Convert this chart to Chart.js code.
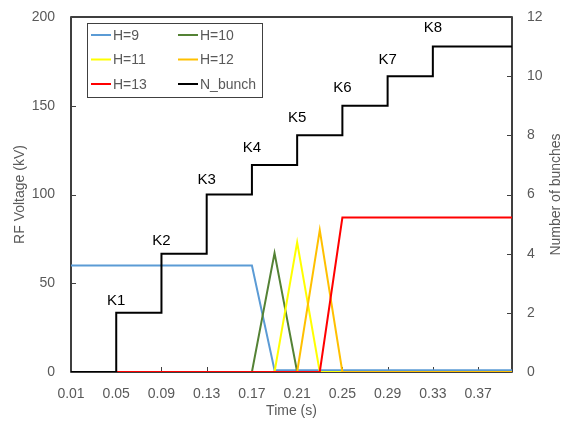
<!DOCTYPE html>
<html><head><meta charset="utf-8">
<script src="https://cdn.jsdelivr.net/npm/chart.js@4"></script>
<style>html,body{margin:0;padding:0;background:#fff}#wrap{width:564px;height:421px}</style>
</head><body><div id="wrap"><canvas id="c" width="564" height="421"></canvas></div>
<script>
// ---- data ----
const times = [0.01, 0.05, 0.17, 0.19, 0.21, 0.23, 0.25, 0.40];
const h9  = [60, 60, 60, 1, 1, 1, 1, 1];
const h10 = [0, 0, 0, 67, 0, 0, 0, 0];
const h11 = [0, 0, 0, 0, 73, 0, 0, 0];
const h12 = [0, 0, 0, 0, 0, 80, 0, 0];
const h13 = [0, 0, 0, 0, 0, 0, 87, 87];
const stepTimes = [0.01, 0.05, 0.09, 0.13, 0.17, 0.21, 0.25, 0.29, 0.33, 0.40];
const nBunch = [0, 2, 4, 6, 7, 8, 9, 10, 11, 11];
const kLabels = ['K1', 'K2', 'K3', 'K4', 'K5', 'K6', 'K7', 'K8'];
const kTimes = [0.05, 0.09, 0.13, 0.17, 0.21, 0.25, 0.29, 0.33];
const kHeights = [40, 74, 108, 126, 143, 160, 176, 194]; // label anchor, kV units
const xTicks = [0.01, 0.05, 0.09, 0.13, 0.17, 0.21, 0.25, 0.29, 0.33, 0.37];
const seriesNames = ['H=9', 'H=10', 'H=11', 'H=12', 'H=13', 'N_bunch'];
const seriesColors = ['#5B9BD5', '#548235', '#FFFF00', '#FFC000', '#FF0000', '#000000'];

const FONT = '"Liberation Sans", Arial, sans-serif';
const GREY = '#595959';

const toXY = (xs, ys) => xs.map((x, i) => ({x: x, y: ys[i]}));
const hSeries = [h9, h10, h11, h12, h13];

const datasets = hSeries.map((vals, i) => ({
  label: seriesNames[i],
  data: toXY(times, vals),
  borderColor: seriesColors[i],
  borderWidth: 2,
  pointRadius: 0,
  fill: false,
  tension: 0,
  yAxisID: 'y',
  order: 5 - i
}));
datasets.push({
  label: seriesNames[5],
  data: toXY(stepTimes, nBunch),
  borderColor: seriesColors[5],
  borderWidth: 2,
  pointRadius: 0,
  fill: false,
  stepped: 'before',
  yAxisID: 'y2',
  order: 0
});

const framePlugin = {
  id: 'frame',
  beforeDatasetsDraw(chart) {
    const {ctx, chartArea: a} = chart;
    ctx.save();
    ctx.strokeStyle = '#000';
    ctx.lineWidth = 1.5;
    ctx.strokeRect(a.left, a.top, a.right - a.left, a.bottom - a.top);
    // inward tick marks
    ctx.lineWidth = 1;
    ctx.strokeStyle = '#404040';
    const xs = chart.scales.x, y = chart.scales.y, y2 = chart.scales.y2;
    ctx.beginPath();
    xs.ticks.forEach(t => { const px = Math.round(xs.getPixelForValue(t.value)) + 0.5; ctx.moveTo(px, a.bottom); ctx.lineTo(px, a.bottom - 5); });
    y.ticks.forEach(t => { const py = Math.round(y.getPixelForValue(t.value)) + 0.5; ctx.moveTo(a.left, py); ctx.lineTo(a.left + 5, py); });
    y2.ticks.forEach(t => { const py = Math.round(y2.getPixelForValue(t.value)) + 0.5; ctx.moveTo(a.right, py); ctx.lineTo(a.right - 5, py); });
    ctx.stroke();
    ctx.restore();
  },
  afterDraw(chart) {
    const {ctx, chartArea: a} = chart;
    const xs = chart.scales.x, y = chart.scales.y;
    ctx.save();
    // K labels
    ctx.fillStyle = '#000';
    ctx.font = '15px ' + FONT;
    ctx.textAlign = 'center';
    ctx.textBaseline = 'middle';
    kLabels.forEach((lab, i) => {
      ctx.fillText(lab, xs.getPixelForValue(kTimes[i]), y.getPixelForValue(kHeights[i]));
    });
    // axis titles
    ctx.fillStyle = GREY;
    ctx.font = '14px ' + FONT;
    ctx.fillText('Time (s)', (a.left + a.right) / 2, 411);
    ctx.save();
    ctx.translate(20, (a.top + a.bottom) / 2);
    ctx.rotate(-Math.PI / 2);
    ctx.fillText('RF Voltage (kV)', 0, 0);
    ctx.restore();
    ctx.save();
    ctx.translate(556, (a.top + a.bottom) / 2);
    ctx.rotate(-Math.PI / 2);
    ctx.fillText('Number of bunches', 0, 0);
    ctx.restore();
    // legend
    const bx = 87, by = 23, bw = 175, bh = 74;
    ctx.fillStyle = '#fff';
    ctx.fillRect(bx, by, bw, bh);
    ctx.strokeStyle = '#404040';
    ctx.lineWidth = 1;
    ctx.strokeRect(bx + 0.5, by + 0.5, bw, bh);
    const rows = [35, 59.5, 84];
    const cols = [91, 178];
    ctx.textAlign = 'left';
    ctx.font = '14px ' + FONT;
    seriesNames.forEach((name, i) => {
      const cx = cols[i % 2], cy = rows[Math.floor(i / 2)];
      ctx.strokeStyle = seriesColors[i];
      ctx.lineWidth = 2;
      ctx.beginPath();
      ctx.moveTo(cx, cy); ctx.lineTo(cx + 20, cy);
      ctx.stroke();
      ctx.fillStyle = GREY;
      ctx.fillText(name, cx + 22, cy + 1);
    });
    ctx.restore();
  }
};

new Chart(document.getElementById('c'), {
  type: 'line',
  data: {datasets: datasets},
  plugins: [framePlugin],
  options: {
    responsive: false,
    animation: false,
    devicePixelRatio: 1,
    layout: {padding: {top: 17, left: 0, right: 0, bottom: 0}},
    plugins: {legend: {display: false}, tooltip: {enabled: false}},
    scales: {
      x: {
        type: 'linear', min: 0.01, max: 0.40,
        afterBuildTicks: s => { s.ticks = xTicks.map(v => ({value: v})); },
        afterFit: s => { s.height = 49; s.paddingLeft = 0; s.paddingRight = 0; },
        grid: {display: false, drawTicks: false, tickLength: 0}, border: {display: false},
        ticks: {color: GREY, font: {family: FONT, size: 14}, padding: 14, maxRotation: 0, autoSkip: false,
          callback: v => Number(v).toFixed(2)}
      },
      y: {
        position: 'left', min: 0, max: 200,
        afterFit: s => { s.width = 71; s.paddingTop = 0; s.paddingBottom = 0; },
        grid: {display: false, drawTicks: false, tickLength: 0}, border: {display: false},
        ticks: {stepSize: 50, color: GREY, font: {family: FONT, size: 14}, padding: 16}
      },
      y2: {
        position: 'right', min: 0, max: 12,
        afterFit: s => { s.width = 52; s.paddingTop = 0; s.paddingBottom = 0; },
        grid: {display: false, drawTicks: false, tickLength: 0}, border: {display: false},
        ticks: {stepSize: 2, color: GREY, font: {family: FONT, size: 14}, padding: 15}
      }
    }
  }
});
</script>
</body></html>
